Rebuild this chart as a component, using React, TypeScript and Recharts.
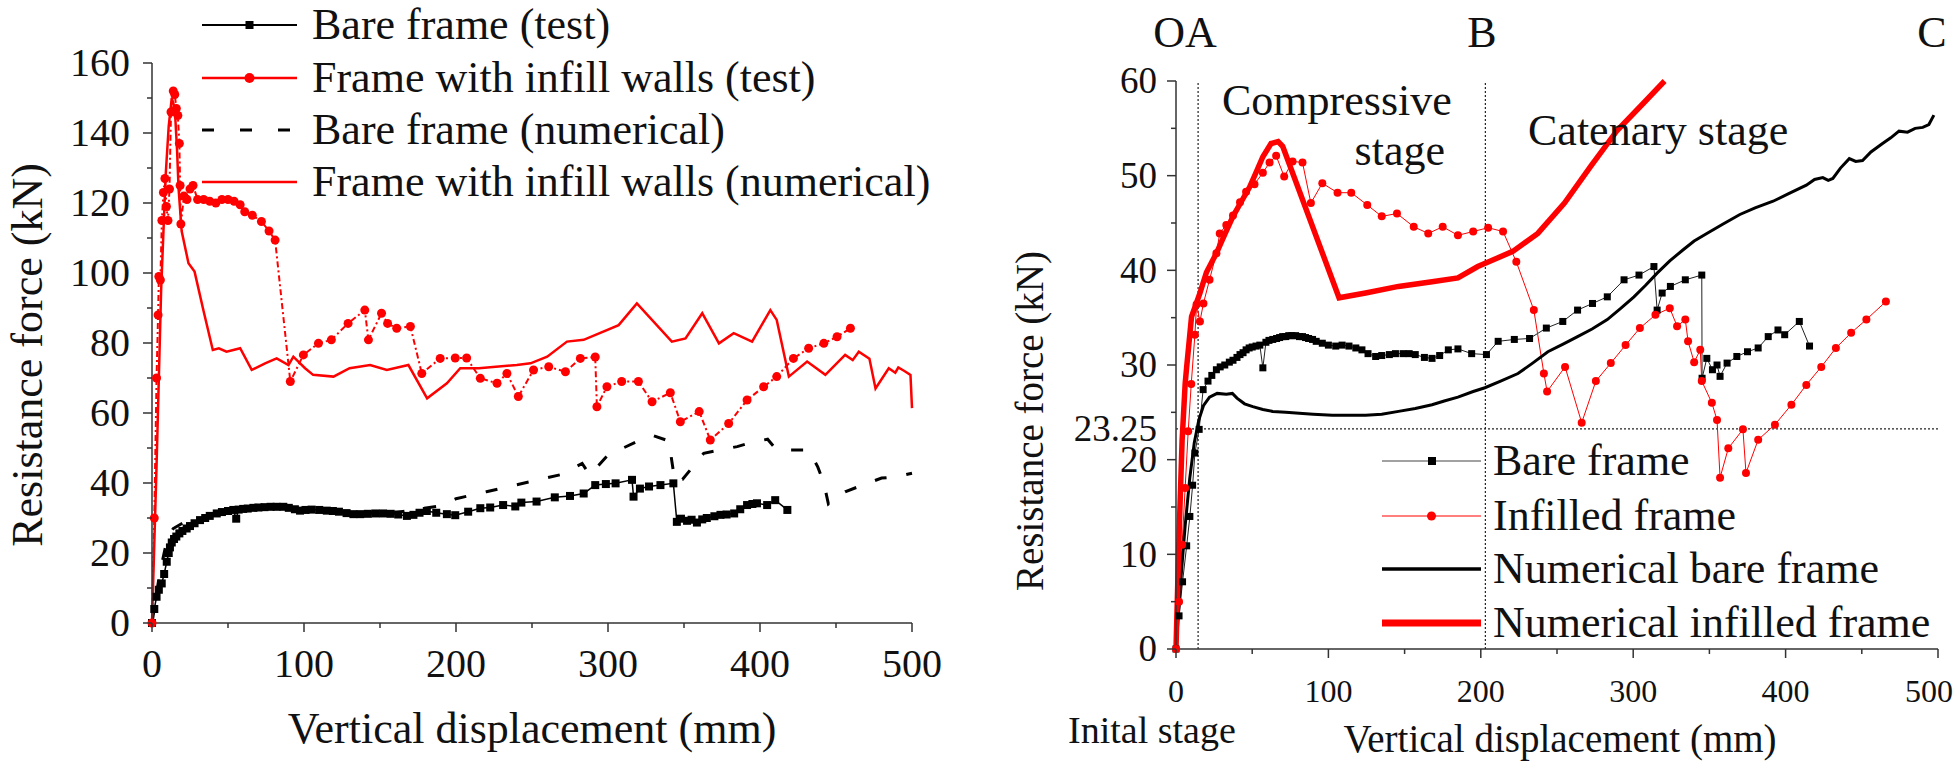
import React from 'react';
import { LineChart, Line, XAxis, YAxis, ReferenceLine } from 'recharts';

// ---- left panel: frame with / without infill walls ----
const leftBareTest = [
  [0, 0], [1.5, 4], [3, 7.5], [4.5, 9.5], [6.4, 11.3], [8, 14], [9.7, 17.5], [11, 20], [11.8, 21.6],
  [13, 23], [14.5, 24], [16, 24.7], [18, 25.6], [20, 26.3], [22.8, 27], [25, 27.7], [28, 28.5],
  [31.6, 29.4], [35, 30], [38, 30.6], [42.6, 31.3], [46, 31.7], [50, 32], [53.5, 32.3], [55.4, 29.8],
  [57, 32.4], [60, 32.6], [63, 32.7], [66.7, 32.9], [70, 33], [74, 33.1], [78, 33.2], [82, 33.2],
  [86.4, 33.2], [90, 32.9], [94, 32.5], [97.4, 32.1], [101, 32.3], [105, 32.4], [110, 32.3],
  [115, 32.1], [119, 32], [123, 31.8], [128, 31.4], [132.5, 31.1], [137, 31.1], [142, 31.2],
  [147, 31.3], [152, 31.3], [157, 31.2], [162, 31], [167.7, 30.6], [172, 30.9], [176, 31.5],
  [180.8, 32], [187, 31.5], [194, 31.1], [199.5, 30.8], [208, 31.8], [216, 32.8], [222.5, 33],
  [231, 33.7], [239, 33.3], [243, 34.4], [253, 34.7], [265, 35.9], [275, 36.3], [284, 37],
  [291.6, 39.4], [298.6, 39.7], [305, 39.9], [315.8, 40.9], [316.8, 36.1], [321, 38.4], [327, 39],
  [334.5, 39.4], [343, 39.9], [345.3, 28.9], [348, 29.8], [352, 29.2], [355, 29.5], [358.5, 28.7],
  [362, 29.6], [365, 30], [370, 30.5], [374, 30.9], [378, 31], [383, 31.3], [387, 32.5],
  [391.5, 33.7], [395, 34], [398, 34.2], [404.7, 33.7], [410, 35.1], [418, 32.3],
];

const leftInfillTest = [
  [0, 0], [1.5, 30], [3, 70], [4, 88], [4.5, 99], [5.5, 98], [6.5, 115], [7.5, 123], [8.5, 127],
  [9.5, 119], [10.5, 115], [11.5, 124], [12.5, 146], [14, 152], [15, 151], [16, 147], [17, 145],
  [18, 137], [18.5, 125], [19, 114], [21, 122], [23, 121], [25, 124], [27, 125], [30, 121],
  [34, 121], [38, 120.5], [42, 120], [46, 121], [50, 121], [54, 120.5], [58, 119.5], [61, 117.5],
  [66, 116.5], [72, 114.7], [77, 112], [81, 109.4], [91, 69], [99.6, 76.6], [109.5, 79.9],
  [118, 80.9], [129, 85.6], [140, 89.4], [142.4, 80.9], [151, 88.5], [155, 85.6], [161, 84.2],
  [170, 84.7], [177.5, 71.3], [189.6, 75.6], [199.5, 75.7], [207, 75.7], [216, 69.9], [227, 68.5],
  [233.5, 71.3], [241, 64.7], [251, 72.3], [261, 73.2], [272, 71.8], [281.8, 75.6], [291.6, 76],
  [292.7, 61.8], [299.3, 67.5], [309, 69], [320, 69], [329, 63.2], [341, 65.8], [347.6, 57.5],
  [360, 60.4], [367.3, 52.3], [379.4, 57], [391.5, 63.7], [402.4, 67.5], [411, 70.4], [422, 75.6],
  [432, 78.5], [442, 79.9], [450.7, 81.8], [459.5, 84.2],
];

const leftBareNum = [
  [0, 0], [5, 14], [10, 24], [14, 27], [20, 28.5], [40, 31], [60, 32.3], [80, 32.8], [100, 32.5],
  [130, 31.5], [160, 31.5], [190, 33.5], [200, 35.5], [220, 37.5], [250, 40.5], [270, 42.5],
  [283, 45.6], [288, 42.3], [300, 48], [320, 52], [330, 53.5], [340, 52], [344, 40.5], [349, 41],
  [363, 48.5], [373, 49.4], [385, 50.4], [396, 51.8], [405, 52.5], [411, 49.4], [432, 49.4],
  [438, 44.6], [442, 40], [445, 34], [456, 37.5], [465, 39], [480, 41.4], [490, 41.8], [500, 42.8],
];

const leftInfillNum = [
  [0, 0], [3, 45], [6, 95], [9, 128], [11, 142], [13, 150], [15, 147], [16.5, 135], [17.5, 124],
  [19.5, 112], [24, 102.8], [28, 100.4], [34, 89], [40, 78], [44, 78.5], [49, 77.5], [53.5, 78],
  [58, 78.5], [65.6, 72.3], [74.4, 74.2], [82, 75.6], [89.8, 73.7], [93, 76.1], [100.7, 72.8],
  [106, 70.9], [119.4, 70.4], [130, 72.8], [143.5, 73.7], [154.5, 72.3], [168.7, 73.7], [181, 64.2],
  [194, 68.5], [202.8, 72.8], [215, 72.8], [240, 73.7], [249, 74.2], [260, 76.1], [273, 80.4],
  [284, 80.9], [307, 85.1], [319, 91.3], [342, 80.4], [351, 81.3], [362, 88.5], [373, 79.9],
  [382.7, 82.8], [394.8, 80.4], [406.8, 89.4], [411, 86.6], [419, 70.4], [431, 74.7], [443, 70.9],
  [456, 76.6], [461, 75.1], [465, 77.5], [472, 75.5], [476, 67], [484.7, 72.8], [489, 71.5],
  [491, 73], [495, 72], [499, 70.9], [500, 61.4],
];

// ---- right panel: stages ----
const rightBareTest = [
  [0, 0], [2, 3.5], [4.3, 7.1], [7, 10.9], [9.1, 14], [10.9, 17.3], [12.4, 20.7], [15.2, 23.2],
  [17.8, 27.4], [21, 28.3], [23.5, 28.9], [26.5, 29.5], [29, 29.8], [32, 30], [35, 30.3],
  [37.4, 30.5], [40, 30.8], [42, 31.1], [44, 31.3], [46, 31.6], [48, 31.8], [50, 31.9], [52.5, 32],
  [55, 32.1], [57, 29.7], [59, 32.4], [61, 32.6], [63.5, 32.7], [66, 32.8], [68, 32.9], [70, 33],
  [72, 33], [74, 33.1], [76, 33.1], [78.5, 33.1], [81, 33], [83, 33], [85, 32.9], [87, 32.8],
  [89.6, 32.7], [92, 32.5], [96, 32.3], [100, 32.1], [104.8, 32], [109, 32.1], [113.5, 32],
  [118, 31.8], [122, 31.6], [126, 31.2], [131, 30.9], [135, 31], [140, 31.1], [144, 31.2],
  [149, 31.2], [153, 31.2], [157, 31.1], [163, 30.8], [168, 30.7], [173, 31], [178.7, 31.6],
  [185, 31.7], [194, 31.2], [203.7, 31.1], [211.4, 32.5], [222, 32.7], [232, 32.8], [243, 33.9],
  [253.8, 34.6], [263.5, 35.8], [273.3, 36.5], [283, 37.2], [294, 39], [303.8, 39.5], [313.6, 40.4],
  [315.7, 35.8], [319, 37.6], [324.4, 38.3], [334.2, 39], [345, 39.5], [345.2, 28.6], [348.3, 30.7],
  [352, 29.5], [355, 30], [357, 28.8], [361.6, 30.2], [368, 30.9], [375, 31.4], [382, 31.8],
  [388.6, 33], [395, 33.7], [399.4, 33.2], [409, 34.6], [415.7, 32],
];

const rightInfillTest = [
  [0, 0], [2, 5], [4, 11], [6, 17], [8, 23], [10, 28], [12.4, 33.2], [13.5, 36.4], [15.7, 34.6],
  [18, 36.5], [22, 39], [26.5, 41.8], [28.7, 43.9], [33, 44.8], [37.4, 45.8], [42, 47.2], [46, 48.3],
  [51.5, 49.1], [57, 50.3], [61.4, 51.4], [65.7, 52.1], [71, 49.9], [76.5, 51.5], [83, 51.4],
  [88.5, 47.1], [96, 49.2], [106, 48.2], [115, 48.2], [125.5, 46.9], [135, 45.7], [145, 46],
  [156, 44.6], [165.5, 43.9], [175, 44.6], [185, 43.7], [195, 44.1], [204.8, 44.5], [214.6, 44.1],
  [223.3, 40.9], [234.8, 35.8], [241.4, 29.1], [243.5, 27.2], [255.3, 29.8], [266.2, 23.9],
  [275.5, 28.3], [285.3, 30.2], [295, 32.1], [304.4, 33.9], [314.6, 35.3], [324, 36], [328.8, 34.1],
  [334.2, 34.8], [336, 32.5], [340, 30.3], [344, 31.6], [345, 28.3], [351.6, 26], [355, 24.2],
  [357, 18.1], [362.4, 21.2], [372, 23.2], [374, 18.6], [382, 22.1], [393, 23.7], [403.8, 25.8],
  [413.6, 27.9], [423.4, 29.8], [433, 31.8], [443, 33.4], [453, 34.8], [465.8, 36.7],
];

const rightBareNum = [
  [0, 0], [3, 7], [6, 13], [9, 18], [12, 21.8], [15, 24.2], [18, 25.7], [22, 26.6], [27, 27],
  [33, 26.9], [37, 27], [40, 26.5], [45, 25.9], [50.4, 25.6], [57, 25.3], [63.5, 25.1], [72, 25],
  [80.9, 24.9], [90, 24.8], [102.6, 24.7], [113, 24.7], [124.4, 24.7], [135, 24.8], [146, 25.1],
  [157, 25.4], [168, 25.8], [176, 26.2], [185, 26.6], [195, 27.2], [202.7, 27.6], [213, 28.3],
  [224.4, 29.1], [234, 30.2], [244, 31.4], [254, 32.2], [263.5, 33], [273, 33.8], [283, 34.8],
  [292, 36], [300.5, 37.2], [308, 38.4], [315.7, 39.7], [324, 41], [333, 42.2], [340, 43.1],
  [348.3, 43.9], [359, 44.9], [370, 45.9], [380, 46.6], [391.8, 47.3], [402, 48.1], [413.6, 49],
  [419, 49.6], [424.4, 49.8], [428, 49.5], [431, 49.7], [436, 50.8], [441.8, 51.8], [446, 51.5],
  [450.5, 51.6], [456, 52.5], [463.6, 53.4], [469, 54], [474.4, 54.7], [480, 54.6], [485, 55],
  [490, 55.1], [494, 55.4], [497.3, 56.4],
];

const rightInfillNum = [
  [0, 0], [2, 12], [4, 22], [6, 28], [7, 29.8], [10.2, 35.1], [15.7, 37.6], [20, 39.8], [26.5, 41.8],
  [32, 43.8], [37.4, 45.7], [43, 47.3], [48.3, 48.8], [53, 50.5], [57, 52], [62.4, 53.4], [67, 53.6],
  [70, 53.1], [107, 37.1], [124.4, 37.6], [146, 38.3], [168, 38.8], [185, 39.2], [198, 40.4],
  [203.7, 40.8], [221, 42], [237.4, 43.9], [254.9, 47.1], [272.2, 51], [289.6, 54.8], [307, 57.7],
  [320.6, 60],
];

// ---- ticks and labels ----
const leftXTicks = [0, 50, 100, 150, 200, 250, 300, 350, 400, 450, 500];
const leftYTicks = [0, 10, 20, 30, 40, 50, 60, 70, 80, 90, 100, 110, 120, 130, 140, 150, 160];
const rightXTicks = [0, 50, 100, 150, 200, 250, 300, 350, 400, 450, 500];
const rightYTicks = [0, 5, 10, 15, 20, 23.25, 25, 30, 35, 40, 45, 50, 55, 60];
const yieldForce = 23.25;
const stageA = 14.5;
const stageB = 203;

const leftLegend = [
  'Bare frame (test)',
  'Frame with infill walls (test)',
  'Bare frame (numerical)',
  'Frame with infill walls (numerical)',
];
const rightLegend = ['Bare frame', 'Infilled frame', 'Numerical bare frame', 'Numerical infilled frame'];

const RED = '#f00';
const INK = '#111';
const AXIS = '#333';
const FONT = '"Liberation Serif", "Times New Roman", serif';

const toPts = (arr: number[][]) => arr.map(([x, y]) => ({ x, y }));

const squareDot = (size: number) => (p: any) => (
  <rect
    key={`sq-${p.index}`}
    x={p.cx - size / 2}
    y={p.cy - size / 2}
    width={size}
    height={size}
    fill="#000"
  />
);

const XTick = (props: any) => {
  const { x, y, payload, fontSize, labelDy, majorStep, lastDx = 0 } = props;
  const v = payload.value;
  const major = v % majorStep === 0;
  const dx = v === 500 ? lastDx : 0;
  return (
    <g>
      <line x1={x} x2={x} y1={y} y2={y + (major ? 9 : 5)} stroke={AXIS} strokeWidth={1.5} />
      {major && (
        <text x={x + dx} y={y + labelDy} textAnchor="middle" fontSize={fontSize} fontFamily={FONT} fill={INK}>
          {v}
        </text>
      )}
    </g>
  );
};

const YTick = (props: any) => {
  const { x, y, payload, fontSize, gap, majorStep } = props;
  const v = payload.value;
  const isInt = Number.isInteger(v);
  const major = isInt && v % majorStep === 0;
  return (
    <g>
      {isInt && <line x1={x} x2={x - (major ? 9 : 5)} y1={y} y2={y} stroke={AXIS} strokeWidth={1.5} />}
      {(major || !isInt) && (
        <text x={x - gap} y={y + fontSize * 0.33} textAnchor="end" fontSize={fontSize} fontFamily={FONT} fill={INK}>
          {v}
        </text>
      )}
    </g>
  );
};

const LeftPanel = () => (
  <LineChart width={960} height={773} margin={{ top: 63, right: 48, bottom: 120, left: 92 }}>
    <XAxis
      type="number"
      dataKey="x"
      domain={[0, 500]}
      ticks={leftXTicks}
      interval={0}
      height={30}
      tickSize={0}
      tickMargin={0}
      tickLine={false}
      axisLine={{ stroke: AXIS, strokeWidth: 1.5 }}
      tick={(p: any) => <XTick {...p} fontSize={40} labelDy={54} majorStep={100} />}
    />
    <YAxis
      type="number"
      dataKey="y"
      domain={[0, 160]}
      ticks={leftYTicks}
      interval={0}
      width={60}
      tickSize={0}
      tickMargin={0}
      tickLine={false}
      axisLine={{ stroke: AXIS, strokeWidth: 1.5 }}
      tick={(p: any) => <YTick {...p} fontSize={40} gap={22} majorStep={20} />}
    />
    <Line
      data={toPts(leftBareTest)}
      dataKey="y"
      type="linear"
      stroke="#000"
      strokeWidth={1.5}
      dot={squareDot(8)}
      activeDot={false}
      isAnimationActive={false}
    />
    <Line
      data={toPts(leftInfillTest)}
      dataKey="y"
      type="linear"
      stroke={RED}
      strokeWidth={2}
      strokeDasharray="6 3 2 3"
      dot={{ r: 4.5, fill: RED, stroke: RED, strokeWidth: 0 }}
      activeDot={false}
      isAnimationActive={false}
    />
    <Line
      data={toPts(leftBareNum)}
      dataKey="y"
      type="linear"
      stroke="#000"
      strokeWidth={3}
      strokeDasharray="12 20"
      dot={false}
      activeDot={false}
      isAnimationActive={false}
    />
    <Line
      data={toPts(leftInfillNum)}
      dataKey="y"
      type="linear"
      stroke={RED}
      strokeWidth={2.5}
      dot={false}
      activeDot={false}
      isAnimationActive={false}
    />
  </LineChart>
);

const RightPanel = () => (
  <LineChart width={980} height={773} margin={{ top: 81, right: 22, bottom: 94, left: 136 }}>
    <XAxis
      type="number"
      dataKey="x"
      domain={[0, 500]}
      ticks={rightXTicks}
      interval={0}
      height={30}
      tickSize={0}
      tickMargin={0}
      tickLine={false}
      axisLine={{ stroke: AXIS, strokeWidth: 1.5 }}
      tick={(p: any) => <XTick {...p} fontSize={32} labelDy={53} majorStep={100} lastDx={-9} />}
    />
    <YAxis
      type="number"
      dataKey="y"
      domain={[0, 60]}
      ticks={rightYTicks}
      interval={0}
      width={60}
      tickSize={0}
      tickMargin={0}
      tickLine={false}
      axisLine={{ stroke: AXIS, strokeWidth: 1.5 }}
      tick={(p: any) => <YTick {...p} fontSize={37} gap={19} majorStep={10} />}
    />
    <ReferenceLine y={yieldForce} stroke="#222" strokeWidth={1.2} strokeDasharray="2 2" />
    <ReferenceLine x={stageA} stroke="#222" strokeWidth={1.2} strokeDasharray="2 2" />
    <ReferenceLine x={stageB} stroke="#222" strokeWidth={1.2} strokeDasharray="2 2" />
    <Line
      data={toPts(rightBareTest)}
      dataKey="y"
      type="linear"
      stroke="#222"
      strokeWidth={1}
      dot={squareDot(7)}
      activeDot={false}
      isAnimationActive={false}
    />
    <Line
      data={toPts(rightInfillTest)}
      dataKey="y"
      type="linear"
      stroke={RED}
      strokeWidth={1}
      dot={{ r: 4, fill: RED, stroke: RED, strokeWidth: 0 }}
      activeDot={false}
      isAnimationActive={false}
    />
    <Line
      data={toPts(rightBareNum)}
      dataKey="y"
      type="linear"
      stroke="#000"
      strokeWidth={3}
      dot={false}
      activeDot={false}
      isAnimationActive={false}
    />
    <Line
      data={toPts(rightInfillNum)}
      dataKey="y"
      type="linear"
      stroke={RED}
      strokeWidth={5.5}
      dot={false}
      activeDot={false}
      isAnimationActive={false}
    />
  </LineChart>
);

const leftRows = [25, 78, 130, 182];
const rightRows = [461, 516, 569, 623];

const Overlay = () => (
  <svg width={1960} height={773} style={{ position: 'absolute', left: 0, top: 0, pointerEvents: 'none' }}>
    <g fontFamily={FONT} fill={INK}>
      {/* left legend */}
      <line x1={202} x2={297} y1={leftRows[0]} y2={leftRows[0]} stroke="#000" strokeWidth={2} />
      <rect x={245.5} y={leftRows[0] - 4} width={8} height={8} fill="#000" />
      <line x1={202} x2={297} y1={leftRows[1]} y2={leftRows[1]} stroke={RED} strokeWidth={2.5} />
      <circle cx={249.5} cy={leftRows[1]} r={5} fill={RED} />
      <line x1={202} x2={297} y1={leftRows[2]} y2={leftRows[2]} stroke="#000" strokeWidth={3} strokeDasharray="12 26" />
      <line x1={202} x2={297} y1={leftRows[3]} y2={leftRows[3]} stroke={RED} strokeWidth={2.5} />
      {leftLegend.map((t, i) => (
        <text key={t} x={312} y={leftRows[i] + 14} fontSize={44}>
          {t}
        </text>
      ))}

      {/* left axis titles */}
      <text x={532} y={743} fontSize={44} textAnchor="middle">
        Vertical displacement (mm)
      </text>
      <text x={42} y={355} fontSize={44} textAnchor="middle" transform="rotate(-90 42 355)">
        Resistance force (kN)
      </text>

      {/* right annotations */}
      <text x={1185} y={47} fontSize={44} textAnchor="middle">OA</text>
      <text x={1482} y={47} fontSize={44} textAnchor="middle">B</text>
      <text x={1932} y={47} fontSize={44} textAnchor="middle">C</text>
      <text x={1222} y={115} fontSize={44}>Compressive</text>
      <text x={1445} y={165} fontSize={44} textAnchor="end">stage</text>
      <text x={1528} y={145} fontSize={44}>Catenary stage</text>
      <text x={1068} y={743} fontSize={38}>Inital stage</text>
      <text x={1560} y={752} fontSize={39} textAnchor="middle">
        Vertical displacement (mm)
      </text>
      <text x={1043} y={421} fontSize={39} textAnchor="middle" transform="rotate(-90 1043 421)">
        Resistance force (kN)
      </text>

      {/* right legend */}
      <line x1={1382} x2={1481} y1={rightRows[0]} y2={rightRows[0]} stroke="#444" strokeWidth={1.2} />
      <rect x={1428} y={rightRows[0] - 4} width={8} height={8} fill="#000" />
      <line x1={1382} x2={1481} y1={rightRows[1]} y2={rightRows[1]} stroke={RED} strokeWidth={1.2} />
      <circle cx={1431.5} cy={rightRows[1]} r={4.5} fill={RED} />
      <line x1={1382} x2={1481} y1={rightRows[2]} y2={rightRows[2]} stroke="#000" strokeWidth={3.5} />
      <line x1={1382} x2={1481} y1={rightRows[3]} y2={rightRows[3]} stroke={RED} strokeWidth={7} />
      {rightLegend.map((t, i) => (
        <text key={t} x={1493} y={rightRows[i] + 14} fontSize={44}>
          {t}
        </text>
      ))}
    </g>
  </svg>
);

const App: React.FC = () => (
  <div style={{ position: 'absolute', left: 0, top: 0, width: 1960, height: 773, background: '#fff' }}>
    <div style={{ position: 'absolute', left: 0, top: 0 }}>
      <LeftPanel />
    </div>
    <div style={{ position: 'absolute', left: 980, top: 0 }}>
      <RightPanel />
    </div>
    <Overlay />
  </div>
);

export default App;
